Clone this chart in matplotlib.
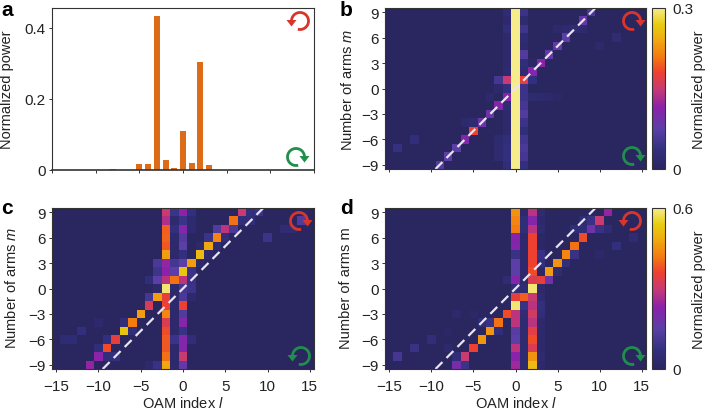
import numpy as np
import matplotlib
matplotlib.use("Agg")
import matplotlib.pyplot as plt
from matplotlib.colors import LinearSegmentedColormap
from matplotlib.patches import Arc, Polygon

plt.rcParams['font.family'] = ['Liberation Sans', 'DejaVu Sans']
plt.rcParams['mathtext.fontset'] = 'custom'
plt.rcParams['mathtext.it'] = 'Liberation Sans:italic'
plt.rcParams['mathtext.rm'] = 'Liberation Sans'
plt.rcParams['font.size'] = 10.5
plt.rcParams['axes.linewidth'] = 0.8
plt.rcParams['axes.edgecolor'] = '#333333'

W, H = 707, 410

# panel a
oam_bars = [-8, -6, -5, -4, -3, -2, -1, 0, 1, 2, 3, 7]
power_bars = [0.004, 0.001, 0.016, 0.018, 0.433, 0.027, 0.006, 0.111, 0.020, 0.305, 0.014, 0.001]

l_values = np.arange(-15, 16)
m_values = np.arange(9, -10, -1)

# heatmap values are fractions of the colour bar, listed m = 9 ... -9
b_col_0 = [1.0] * 19
b_col_1 = [.15, .07, .16, .08, .06, .22, .10, .08, .58, .15, .15, .18, .22, .15, .10, .17, .20, .18, .12]
b_col_m1 = [.08, .05, .10, .05, .05, .05, .05, .06, .50, .12, .38, .08, .05, .05, .05, .10, .12, .12, .10]
b_diag = [.20, .28, .12, .25, .28, .27, .38, .36, None, None, None, .36, .30, .30, .60, .36, .25, .25, .22]
b_faint = [(-2, 1, .18), (2, 1, .12), (2, -1, .07), (3, -1, .06), (4, -1, .05), (-14, -7, .13),
           (-12, -6, .10), (12, 6, .08), (10, 5, .05), (7, 7, .08), (6, 7, .06), (5, 7, .05),
           (-5, -4, .07), (-6, -4, .05), (-2, -6, .06), (-2, -7, .07), (-2, -8, .07), (-1, 7, .10),
           (-2, 0, .05), (-3, -1, .05), (2, 3, .03), (5, -1, .03), (8, 7, .06)]

c_col_m2 = [.50, .45, .65, .66, .64, .78, .40, .38, .47, .98, .58, .60, .72, .55, .62, .64, .64, .68, .80]
c_col_0 = [.38, .15, .36, .22, .25, .12, .25, .88, .48, .18, .20, .60, .22, .36, .14, .36, .36, .50, .28]
c_col_m1 = [.15, .06, .12, .06, .05, .05, .18, .25, .63, .05, .05, .05, .05, .05, .05, .15, .05, .05, .05]
c_diag = [.50, .68, .48, .72, .80, .85, .78, None, .68, None, .78, .54, .78, .70, .88, .58, .62, .38, .40]
c_faint = [(-3, 3, .20), (-3, 2, .16), (-3, 1, .25), (-4, 1, .10), (-3, 0, .05), (-4, -1, .18),
           (-3, -9, .14), (-4, -9, .05), (1, 9, .12), (1, 8, .06), (1, 7, .06), (1, 2, .15), (1, 1, .14),
           (1, 0, .15), (1, -1, .05), (1, -6, .10), (2, 3, .05), (8, 9, .12), (9, 9, .15), (8, 8, .10),
           (7, 8, .10), (6, 7, .20), (4, 7, .22), (5, 6, .10), (3, 6, .15), (4, 5, .06), (2, 5, .05),
           (3, 4, .05), (-9, -8, .10), (-8, -8, .12), (-10, -7, .10), (-9, -6, .12), (-6, -5, .10),
           (-7, -4, .10), (10, 6, .15), (12, 7, .08), (13, 7, .08), (14, 8, .22), (-12, -5, .12),
           (-14, -6, .08), (-13, -6, .08), (-10, -4, .05)]

d_col_0 = [.75, .72, .70, .37, .36, .14, .25, .25, .36, .10, .58, .98, .48, .48, .24, .25, .48, .38, .42]
d_col_2 = [.47, .36, .47, .60, .60, .60, .60, .62, .55, .98, .50, .47, .52, .47, .57, .62, .55, .75, .85]
d_col_1 = [.05, .10, .10, .05, .05, .05, .05, .05, .05, .08, .65, .14, .08, .07, .07, .07, .07, .07, .07]
d_col_3 = [.07, .05, .07, .03, .03, .14, .12, .03, .58, .05, .07, .12, .10, .05, .05, .05, .05, .07, .05]
d_diag = [.40, .50, .30, .62, .68, .72, .75, .78, None, None, None, None, .62, .68, .76, .76, .60, .50, .33]
d_faint = [(8, 7, .10), (7, 7, .10), (10, 7, .14), (11, 7, .08), (7, 4, .14), (6, 3, .10), (5, 2, .08),
           (8, 8, .08), (9, 8, .14), (14, 6, .08), (12, 5, .12), (10, 4, .04), (-14, -8, .18),
           (-12, -7, .14), (-10, -6, .10), (-8, -5, .03), (-2, -5, .10), (-4, -4, .10), (-3, -4, .14),
           (-5, -3, .03), (-7, -3, .05), (-6, -9, .15), (-7, -8, .10), (-8, -7, .05), (-1, 1, .08), (4, 1, .30)]

cmap_colors = ['#2a2660', '#33307f', '#5b3fa6', '#8a22ab', '#c83a72', '#ee4030',
               '#f47c10', '#efb010', '#e8cc10', '#f6ec8c']
cmap_stops = [0, .12, .25, .38, .5, .6, .7, .82, .9, 1]
power_cmap = LinearSegmentedColormap.from_list('power', list(zip(cmap_stops, cmap_colors)))


def build_grid(columns, diag, shift, faint):
    grid = np.zeros((len(m_values), len(l_values)))
    for col_l, col in columns.items():
        grid[:, col_l + 15] = col
    for i, m in enumerate(m_values):
        if diag[i] is not None:
            grid[i, m + shift + 15] = diag[i]
    for l, m, v in faint:
        grid[9 - m, l + 15] = v
    return grid


def px_axes(x0, y0, x1, y1):
    return fig.add_axes([x0 / W, 1 - y1 / H, (x1 - x0) / W, (y1 - y0) / H])


def heatmap(ax, grid, vmax):
    im = ax.imshow(grid * vmax, cmap=power_cmap, vmin=0, vmax=vmax, aspect='auto', interpolation='nearest',
                   extent=(-15.5, 15.5, -9.5, 9.5))
    ax.plot([-9.5, 9.5], [-9.5, 9.5], color='#e9e3f2', lw=1.6, dashes=(4.4, 2.6))
    ax.set_xlim(-15.5, 15.5)
    ax.set_ylim(-9.5, 9.5)
    ax.set_yticks([-9, -6, -3, 0, 3, 6, 9])
    ax.set_xticks([-15, -10, -5, 0, 5, 10, 15])
    ax.tick_params(length=2.5, width=0.7, pad=2, color='#333333', labelcolor='#222222', labelsize=11)
    ax.tick_params(axis='x', pad=5)
    return im


def add_cbar(im, x0, y0, x1, y1, top_label):
    cax = px_axes(x0, y0, x1, y1)
    cb = fig.colorbar(im, cax=cax)
    cb.set_ticks([0, im.norm.vmax], labels=['0', top_label])
    cb.ax.tick_params(length=0, pad=5, labelcolor='#222222', labelsize=11)
    cb.outline.set_linewidth(0.8)
    fig.text(699 / W, 1 - (y0 + y1) / 2 / H, 'Normalized power', rotation=90, ha='center', va='center',
             color='#222222')


def spin_icon(cx, cy, color, clockwise):
    # head sits at the side the arrow turns towards, gap just below it
    r = 8.5
    y = H - cy
    if clockwise:
        overlay.add_patch(Arc((cx, y), 2 * r, 2 * r, theta1=5, theta2=285, color=color, lw=2))
        tip = cx + r
    else:
        overlay.add_patch(Arc((cx, y), 2 * r, 2 * r, theta1=-105, theta2=175, color=color, lw=2))
        tip = cx - r
    overlay.add_patch(Polygon([(tip - 5, y + 1), (tip + 5, y + 1), (tip, y - 5.5)], color=color, lw=0))


fig = plt.figure(figsize=(W / 100, H / 100), dpi=100)

ax_a = px_axes(52, 9, 314, 171)
ax_a.bar(oam_bars, power_bars, width=0.68, color='#dd6c1a')
ax_a.set_xlim(-15, 15)
ax_a.set_ylim(0, 0.456)
ax_a.set_xticks([-15, -10, -5, 0, 5, 10, 15])
ax_a.set_xticklabels([])
ax_a.set_yticks([0, 0.2, 0.4])
ax_a.set_yticklabels(['0', '0.2', '0.4'])
ax_a.tick_params(length=2.5, width=0.7, pad=2, color='#333333', labelcolor='#222222', labelsize=11)
ax_a.spines['bottom'].set_linewidth(1.2)

ax_b = px_axes(385, 9, 646, 170)
im_b = heatmap(ax_b, build_grid({0: b_col_0, 1: b_col_1, -1: b_col_m1}, b_diag, 0, b_faint), 0.3)
ax_b.set_xticklabels([])
add_cbar(im_b, 652, 9, 665, 170, '0.3')

ax_c = px_axes(52, 209, 314, 370)
heatmap(ax_c, build_grid({-2: c_col_m2, 0: c_col_0, -1: c_col_m1}, c_diag, -2, c_faint), 0.6)
ax_c.set_xlabel('OAM index $l$', color='#222222', labelpad=1)

ax_d = px_axes(385, 209, 646, 370)
im_d = heatmap(ax_d, build_grid({0: d_col_0, 2: d_col_2, 1: d_col_1, 3: d_col_3}, d_diag, 2, d_faint), 0.6)
ax_d.set_xlabel('OAM index $l$', color='#222222', labelpad=1)
add_cbar(im_d, 652, 209, 665, 370, '0.6')

for text, x, y in [('Normalized power', 7, 90), ('Number of arms $m$', 347, 90),
                   ('Number of arms $m$', 12, 288), ('Number of arms m', 346, 288)]:
    fig.text(x / W, 1 - y / H, text, rotation=90, ha='center', va='center', color='#222222')

for letter, x, y in [('a', 1, 10), ('b', 340, 10), ('c', 1, 209), ('d', 340, 209)]:
    fig.text(x / W, 1 - y / H, letter, fontweight='bold', fontsize=15, ha='left', va='center', color='black')

overlay = fig.add_axes([0, 0, 1, 1], facecolor='none')
overlay.set_xlim(0, W)
overlay.set_ylim(0, H)
overlay.set_axis_off()
red, green = '#d9352a', '#1f8f4a'
for cx, cy, color, cw in [(300, 22, red, False), (296, 158, green, True),
                          (632, 22, red, True), (632, 157, green, True),
                          (299, 222, red, True), (301, 357, green, False),
                          (632, 222, red, False), (632, 357, green, True)]:
    spin_icon(cx, cy, color, cw)

fig.savefig('out.png', dpi=100)
